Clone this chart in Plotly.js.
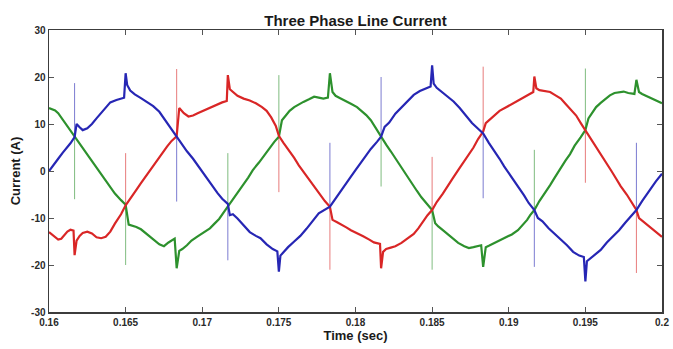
<!DOCTYPE html>
<html>
<head>
<meta charset="utf-8">
<script src="https://cdn.plot.ly/plotly-3.0.1.min.js"></script>
<style>html,body{margin:0;padding:0;background:#fff;}#chart{width:673px;height:349px;}</style>
</head>
<body>
<div id="chart"></div>
<script>
// ---- Data ----
const xTickVals = [0.16, 0.165, 0.17, 0.175, 0.18, 0.185, 0.19, 0.195, 0.2];
const xTickText = ["0.16", "0.165", "0.17", "0.175", "0.18", "0.185", "0.19", "0.195", "0.2"];
const yTickVals = [-30, -20, -10, 0, 10, 20, 30];
const yTickText = ["-30", "-20", "-10", "0", "10", "20", "30"];

const blueT = [0.1600,0.1603,0.1606,0.1609,0.1612,0.1614,0.16167,0.1618,0.1620,0.1622,0.1625,0.1628,0.1631,0.1634,0.1637,0.1640,0.1644,0.1647,0.1649,0.16500,0.1651,0.1653,0.1656,0.1660,0.1664,0.1668,0.1672,0.1675,0.1678,0.1681,0.16833,0.1687,0.1690,0.1694,0.1697,0.1700,0.1703,0.1707,0.1710,0.1713,0.17167,0.1718,0.1720,0.1723,0.1727,0.1731,0.1735,0.1738,0.1742,0.1746,0.1749,0.17500,0.1751,0.1753,0.1756,0.1760,0.1764,0.1768,0.1772,0.1776,0.17833,0.1787,0.1790,0.1794,0.1797,0.1800,0.1803,0.1807,0.1810,0.1814,0.18167,0.1819,0.1822,0.1826,0.1830,0.1834,0.1838,0.1842,0.1846,0.1849,0.18500,0.1851,0.1853,0.1856,0.1860,0.1864,0.1868,0.1872,0.1876,0.1880,0.18833,0.1887,0.1890,0.1894,0.1897,0.1900,0.1903,0.1907,0.1910,0.1913,0.19167,0.1919,0.1922,0.1926,0.1930,0.1934,0.1938,0.1942,0.1946,0.1949,0.19500,0.1951,0.1953,0.1956,0.1960,0.1964,0.1968,0.1972,0.1976,0.1980,0.19833,0.1987,0.1990,0.1993,0.1996,0.2000];
const blueI = [0.0,1.2,2.6,3.9,5.0,5.9,7.2,10.0,9.3,8.7,9.1,10.0,11.2,12.4,13.6,14.6,15.1,15.4,15.6,20.8,18.3,17.1,16.3,15.5,14.7,13.8,12.6,11.2,9.8,8.4,7.3,5.6,4.2,2.6,1.2,-0.2,-1.6,-3.4,-4.7,-5.9,-7.0,-9.4,-9.2,-10.1,-11.6,-13.0,-13.8,-14.3,-15.6,-16.6,-17.1,-21.4,-18.0,-17.2,-16.2,-15.0,-13.8,-12.3,-10.6,-9.0,-7.6,-5.8,-4.4,-2.6,-1.2,0.2,1.6,3.4,4.7,6.2,7.3,9.4,10.3,12.2,13.6,15.0,16.2,17.0,17.6,18.0,22.5,18.6,17.7,16.9,15.9,14.8,13.4,11.8,10.2,9.0,8.0,6.0,4.6,2.6,1.0,-0.4,-1.8,-3.8,-5.2,-6.8,-8.3,-10.0,-10.7,-12.2,-13.4,-14.5,-15.8,-17.2,-18.0,-18.3,-23.5,-19.2,-18.7,-18.0,-16.8,-15.2,-13.9,-12.6,-11.0,-9.6,-8.3,-6.4,-5.0,-3.4,-2.2,-0.6];

const redT = [0.1600,0.1602,0.1604,0.1606,0.1608,0.1610,0.1612,0.1614,0.1616,0.16167,0.1618,0.1620,0.1622,0.1625,0.1628,0.1631,0.1634,0.1637,0.1640,0.1643,0.1647,0.16500,0.1653,0.1657,0.1660,0.1663,0.1667,0.1670,0.1673,0.1677,0.1680,0.16833,0.1685,0.1688,0.1691,0.1694,0.1697,0.1701,0.1705,0.1709,0.1713,0.1716,0.17167,0.1718,0.1720,0.1723,0.1727,0.1731,0.1735,0.1739,0.1742,0.1745,0.1748,0.17500,0.1753,0.1757,0.1760,0.1763,0.1767,0.1770,0.1773,0.1777,0.1780,0.17833,0.1785,0.1788,0.1791,0.1794,0.1797,0.1801,0.1805,0.1809,0.1812,0.1816,0.18167,0.1818,0.1820,0.1823,0.1826,0.1830,0.1834,0.1838,0.1841,0.1844,0.1847,0.18500,0.1853,0.1857,0.1860,0.1863,0.1867,0.1870,0.1873,0.1877,0.1880,0.18833,0.1885,0.1887,0.1890,0.1894,0.1898,0.1902,0.1906,0.1910,0.1913,0.1916,0.19167,0.1918,0.1920,0.1923,0.1927,0.1930,0.1934,0.1937,0.1941,0.1944,0.1947,0.19500,0.1953,0.1957,0.1960,0.1963,0.1967,0.1970,0.1973,0.1977,0.1980,0.19833,0.1985,0.1988,0.1991,0.1994,0.1997,0.2000];
const redI = [-13.0,-13.6,-14.2,-14.6,-14.4,-13.6,-12.9,-12.5,-12.7,-17.9,-14.8,-13.8,-13.2,-12.9,-13.3,-14.1,-14.3,-14.0,-12.9,-11.2,-9.2,-7.3,-5.8,-4.0,-2.6,-1.2,0.6,2.0,3.4,5.2,6.4,7.4,13.4,12.3,11.6,11.8,12.3,12.9,13.4,14.0,14.6,14.9,20.4,17.4,16.8,16.0,15.4,15.0,14.4,13.6,12.8,11.4,9.6,7.5,6.0,4.2,2.8,1.2,-0.6,-2.0,-3.4,-5.2,-6.4,-7.6,-10.4,-10.9,-11.4,-12.0,-12.6,-13.2,-13.9,-14.6,-15.2,-15.5,-20.7,-17.2,-16.6,-16.3,-16.0,-15.3,-14.4,-13.4,-12.2,-10.8,-9.4,-8.3,-6.6,-4.8,-3.4,-1.8,0.2,1.6,3.2,5.0,6.8,8.4,10.2,10.8,11.8,12.8,13.5,14.2,14.9,15.6,16.3,16.8,20.1,17.6,17.2,17.0,16.8,16.2,15.4,14.3,13.0,11.8,10.2,8.7,7.0,5.2,3.6,2.0,0.0,-1.6,-3.2,-5.0,-6.6,-8.3,-10.0,-10.8,-11.6,-12.4,-13.2,-14.0];

const greenT = [0.1600,0.1602,0.1604,0.1606,0.1608,0.1610,0.1612,0.1614,0.16167,0.1620,0.1623,0.1627,0.1630,0.1633,0.1637,0.1640,0.1643,0.1647,0.16500,0.1652,0.1654,0.1657,0.1660,0.1663,0.1666,0.1669,0.1672,0.1675,0.1678,0.1682,0.16833,0.1685,0.1687,0.1690,0.1693,0.1697,0.1701,0.1705,0.1708,0.1711,0.1714,0.17167,0.1720,0.1723,0.1727,0.1730,0.1733,0.1737,0.1740,0.1743,0.1747,0.17500,0.1752,0.1754,0.1757,0.1760,0.1763,0.1766,0.1770,0.1773,0.1776,0.1779,0.1782,0.17833,0.1785,0.1787,0.1790,0.1794,0.1797,0.1801,0.1804,0.1807,0.1810,0.1813,0.18167,0.1820,0.1823,0.1827,0.1830,0.1833,0.1837,0.1840,0.1843,0.1847,0.18500,0.1852,0.1854,0.1857,0.1860,0.1863,0.1867,0.1871,0.1874,0.1877,0.1880,0.1882,0.18833,0.1885,0.1887,0.1890,0.1894,0.1898,0.1902,0.1906,0.1909,0.1912,0.1914,0.19167,0.1920,0.1923,0.1927,0.1930,0.1933,0.1937,0.1940,0.1943,0.1947,0.19500,0.1952,0.1954,0.1957,0.1960,0.1963,0.1966,0.1969,0.1972,0.1975,0.1978,0.1982,0.19833,0.1985,0.1987,0.1990,0.1993,0.1996,0.2000];
const greenI = [13.4,13.2,12.9,12.3,11.4,10.5,9.6,8.6,7.3,5.8,4.4,2.6,1.2,-0.2,-2.0,-3.4,-4.8,-6.2,-7.2,-11.4,-11.6,-11.9,-12.4,-13.2,-14.0,-14.9,-15.6,-16.0,-15.2,-14.4,-20.7,-17.0,-16.6,-15.8,-14.8,-13.9,-13.1,-12.2,-11.2,-10.2,-8.8,-7.6,-6.0,-4.6,-2.8,-1.4,0.2,1.8,3.2,4.6,6.2,7.3,10.8,11.6,12.8,13.6,14.2,14.7,15.3,15.8,15.6,15.4,15.6,20.8,16.8,16.0,15.5,14.9,14.3,13.6,12.8,11.9,10.8,9.2,7.3,5.6,4.2,2.2,0.6,-0.8,-2.8,-4.2,-5.6,-7.2,-8.3,-11.1,-11.8,-12.6,-13.4,-14.4,-15.3,-16.0,-16.4,-16.2,-15.9,-15.8,-20.4,-16.2,-15.9,-15.4,-14.8,-14.2,-13.5,-12.6,-11.6,-10.4,-9.4,-8.3,-6.4,-5.0,-3.0,-1.4,0.2,2.2,3.6,5.4,7.2,8.7,11.2,12.2,13.6,14.5,15.4,16.1,16.6,16.8,16.9,16.6,16.4,19.4,16.8,16.4,15.9,15.4,15.0,14.4];

// commutation spikes (thin vertical transients): time and peak current
const blueSpikeT = [0.16167, 0.16833, 0.17167, 0.17833, 0.18167, 0.18833, 0.19167, 0.19833];
const blueSpikeI = [18.7, -6.5, -19.0, 6.0, 20.0, -5.8, -20.4, 6.0];
const redSpikeT = [0.165, 0.16833, 0.175, 0.17833, 0.185, 0.18833, 0.195, 0.19833];
const redSpikeI = [3.8, 21.7, -4.5, -21.0, 3.0, 22.2, -2.5, -21.7];
const greenSpikeT = [0.16167, 0.165, 0.17167, 0.175, 0.18167, 0.185, 0.19167, 0.195];
const greenSpikeI = [-6.0, -20.0, 3.8, 20.4, -3.3, -21.0, 4.5, 21.8];

// ---- Build traces ----
function spikeTrace(T, I, sT, sI, color) {
  const xs = [], ys = [];
  sT.forEach((t, k) => {
    let idx = 0, best = Infinity;
    T.forEach((tt, j) => { const d = Math.abs(tt - t); if (d < best) { best = d; idx = j; } });
    xs.push(t, t, null);
    ys.push(I[idx], sI[k], null);
  });
  return { x: xs, y: ys, type: 'scatter', mode: 'lines', hoverinfo: 'skip',
           line: { color: color, width: 1 }, opacity: 0.6, connectgaps: false };
}
const BLUE = '#2626b4', RED = '#d92626', GREEN = '#2d912d';
const lineTrace = (T, I, c) => ({ x: T, y: I, type: 'scatter', mode: 'lines', line: { color: c, width: 2.2 } });

const data = [
  spikeTrace(blueT, blueI, blueSpikeT, blueSpikeI, BLUE),
  spikeTrace(redT, redI, redSpikeT, redSpikeI, RED),
  spikeTrace(greenT, greenI, greenSpikeT, greenSpikeI, GREEN),
  lineTrace(greenT, greenI, GREEN),
  lineTrace(redT, redI, RED),
  lineTrace(blueT, blueI, BLUE)
];

const FONT = 'Liberation Sans, Arial, Helvetica, sans-serif';
const axisCommon = {
  showline: true, linecolor: '#3c3c3c', linewidth: 1.5, mirror: 'ticks',
  ticks: 'inside', ticklen: 5, tickwidth: 1, tickcolor: '#555',
  showgrid: false, zeroline: false, fixedrange: true,
  tickfont: { family: FONT, size: 10, color: '#2a2a2a', weight: 'bold' }
};
const layout = {
  width: 673, height: 349,
  margin: { l: 49, r: 11, t: 30, b: 37, pad: 0 },
  paper_bgcolor: '#ffffff', plot_bgcolor: '#ffffff',
  showlegend: false,
  title: { text: 'Three Phase Line Current', x: 0.5, xref: 'paper', xanchor: 'center',
           y: 1 - 21 / 349, yref: 'container', yanchor: 'middle',
           font: { family: FONT, size: 15, color: '#1a1a1a', weight: 'bold' } },
  xaxis: Object.assign({}, axisCommon, {
    range: [0.16, 0.2], tickmode: 'array', tickvals: xTickVals, ticktext: xTickText,
    title: { text: 'Time (sec)', font: { family: FONT, size: 13, color: '#1a1a1a', weight: 'bold' }, standoff: 4 }
  }),
  yaxis: Object.assign({}, axisCommon, {
    range: [-30, 30], tickmode: 'array', tickvals: yTickVals, ticktext: yTickText,
    title: { text: 'Current (A)', font: { family: FONT, size: 13, color: '#1a1a1a', weight: 'bold' }, standoff: 7 }
  })
};
Plotly.newPlot('chart', data, layout, { staticPlot: true, displayModeBar: false });
</script>
</body>
</html>
